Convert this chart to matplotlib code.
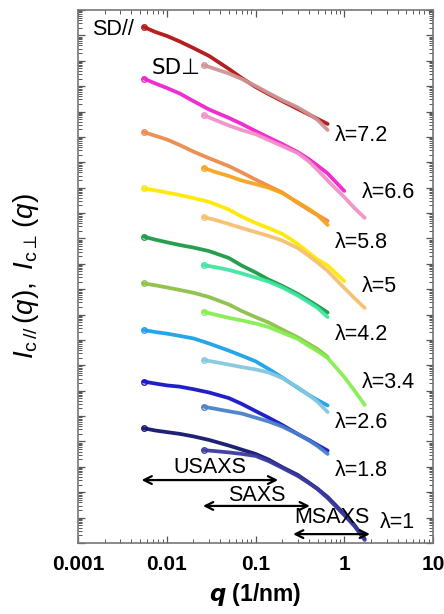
import matplotlib

matplotlib.use("Agg")
import matplotlib.pyplot as plt
import numpy as np
from matplotlib.ticker import LogLocator, NullFormatter

plt.rcParams["font.family"] = ["Liberation Sans", "DejaVu Sans"]
plt.rcParams["mathtext.fontset"] = "custom"
plt.rcParams["mathtext.rm"] = "Liberation Sans"
plt.rcParams["mathtext.it"] = "Liberation Sans:italic"
plt.rcParams["mathtext.bf"] = "Liberation Sans:bold"

# q grids (1/nm): SD// starts in the USAXS range, SD-perp a bit later
q_par = [0.0055, 0.0075, 0.01, 0.014, 0.02, 0.03, 0.05, 0.07, 0.1, 0.14,
         0.2, 0.3, 0.4, 0.5, 0.65, 1.0, 1.3, 1.7]
q_perp = [0.026, 0.035, 0.05, 0.07, 0.1, 0.14, 0.2, 0.3, 0.4, 0.5, 0.65,
          1.0, 1.3, 1.7]

# log10 intensity (curves shifted vertically), per draw ratio
lam_labels = ["7.2", "6.6", "5.8", "5", "4.2", "3.4", "2.6", "1.8", "1"]
logI_par = {
    "7.2": [20.33, 20.13, 19.98, 19.76, 19.50, 19.19, 18.68, 18.32, 17.97,
            17.69, 17.41, 17.10, 16.88, 16.71, 16.51],
    "6.6": [18.30, 18.10, 17.93, 17.71, 17.41, 17.08, 16.75, 16.51, 16.23,
            15.98, 15.72, 15.40, 15.12, 14.87, 14.56, 13.87],
    "5.8": [16.19, 16.04, 15.90, 15.68, 15.42, 15.16, 14.85, 14.60, 14.32,
            14.07, 13.81, 13.40, 13.12, 12.92, 12.69],
    "5": [13.97, 13.89, 13.81, 13.71, 13.59, 13.44, 13.14, 12.86, 12.61,
          12.41, 12.18, 11.78, 11.43, 11.17, 10.93, 10.32],
    "4.2": [12.07, 11.95, 11.85, 11.74, 11.64, 11.50, 11.23, 10.93, 10.66,
            10.38, 10.13, 9.81, 9.55, 9.34, 9.08],
    "3.4": [10.23, 10.15, 10.07, 9.97, 9.86, 9.69, 9.40, 9.14, 8.90,
            8.69, 8.41, 8.10, 7.84, 7.64, 7.33],
    "2.6": [8.39, 8.31, 8.25, 8.16, 8.06, 7.86, 7.58, 7.38, 7.16,
            6.86, 6.52, 6.11, 5.83, 5.63, 5.42],
    "1.8": [6.36, 6.28, 6.21, 6.16, 6.06, 5.93, 5.71, 5.48, 5.20,
            4.94, 4.65, 4.29, 4.06, 3.86, 3.64],
    "1": [4.52, 4.43, 4.37, 4.30, 4.20, 4.06, 3.84, 3.68, 3.51,
          3.29, 2.99, 2.68, 2.38, 2.14, 1.81, 1.14, 0.71, 0.16],
}
logI_perp = {
    "7.2": [18.83, 18.68, 18.50, 18.28, 18.01, 17.73, 17.45, 17.16, 16.90,
            16.67, 16.27],
    "6.6": [16.86, 16.67, 16.45, 16.27, 16.11, 15.88, 15.64, 15.36, 15.03,
            14.70, 14.28, 13.63, 13.20, 12.81],
    "5.8": [14.78, 14.62, 14.46, 14.28, 14.14, 14.00, 13.79, 13.42, 13.16,
            12.92, 12.53],
    "5": [12.84, 12.73, 12.57, 12.41, 12.25, 12.10, 11.92, 11.62, 11.31,
          11.05, 10.72, 10.05, 9.65, 9.26],
    "4.2": [10.95, 10.87, 10.76, 10.62, 10.46, 10.30, 10.07, 9.75, 9.48,
            9.26, 8.90],
    "3.4": [9.11, 9.00, 8.87, 8.77, 8.65, 8.51, 8.29, 8.04, 7.76,
            7.56, 7.29, 6.54, 6.01, 5.44],
    "2.6": [7.21, 7.13, 7.03, 6.93, 6.84, 6.72, 6.50, 6.13, 5.83,
            5.56, 5.16],
    "1.8": [5.37, 5.29, 5.19, 5.10, 4.94, 4.79, 4.59, 4.29, 4.04,
            3.82, 3.51],
    "1": [3.66, 3.62, 3.57, 3.51, 3.43, 3.23, 2.96, 2.64, 2.36,
          2.12, 1.77, 1.10, 0.67, 0.12],
}
col_par = {"7.2": "#b01414", "6.6": "#ee22cc", "5.8": "#ec8a4a", "5": "#ffe800",
           "4.2": "#1c9a44", "3.4": "#8cc048", "2.6": "#1aa0e8", "1.8": "#1414c8",
           "1": "#14146e"}
col_perp = {"7.2": "#d09494", "6.6": "#f290c8", "5.8": "#f7a41e", "5": "#f5c070",
            "4.2": "#3ee6a0", "3.4": "#86ee50", "2.6": "#84c8e0", "1.8": "#4a80c8",
            "1": "#3a3aa0"}
# label anchor (q, log10 I)
lab_pos = {"7.2": (0.79, 16.04), "6.6": (1.585, 13.79), "5.8": (0.79, 11.82),
           "5": (1.585, 10.09), "4.2": (0.79, 8.23), "3.4": (1.585, 6.34),
           "2.6": (0.79, 4.73), "1.8": (0.79, 2.84), "1": (2.53, 0.79)}

# measurement ranges: (q_min, q_max, label, log10 height, label offset)
ranges = [(0.0052, 0.18, "USAXS", 2.48, 0.48), (0.0256, 0.41, "SAXS", 1.46, 0.43),
          (0.265, 1.95, "MSAXS", 0.35, 0.64)]

fig = plt.figure(figsize=(4.44, 6.14), dpi=100)
ax = fig.add_axes([78 / 444, 1 - 543 / 614, 355 / 444, 533 / 614])

for lam in lam_labels:
    yp = np.array(logI_par[lam])
    ax.plot(q_par[:len(yp)], 10.0 ** yp, color=col_par[lam], lw=2.7,
            solid_capstyle="round", solid_joinstyle="round", marker="o",
            markevery=[0], ms=4, mfc="none", mew=1.0, alpha=0.95)
    ys = np.array(logI_perp[lam])
    ax.plot(q_perp[:len(ys)], 10.0 ** ys, color=col_perp[lam], lw=2.7,
            solid_capstyle="round", solid_joinstyle="round", marker="o",
            markevery=[0], ms=4, mfc="none", mew=1.0, alpha=0.95)
    x, y = lab_pos[lam]
    ax.text(x, 10.0 ** y, "λ=" + lam, fontsize=15.5, va="center", ha="left")

ax.text(0.00144, 10.0 ** 20.25, "SD//", fontsize=15.5, va="center", ha="left")
ax.text(0.00682, 10.0 ** 18.72, "SD⊥", fontsize=15.5, va="center", ha="left",
        family=["DejaVu Sans"])

for q0, q1, name, ly, off in ranges:
    ax.annotate("", xy=(q0, 10.0 ** ly), xytext=(q1, 10.0 ** ly),
                arrowprops=dict(arrowstyle="<->", color="black", lw=1.6,
                                shrinkA=0, shrinkB=0, mutation_scale=14))
    ax.text(np.sqrt(q0 * q1), 10.0 ** (ly + off), name, fontsize=15.5,
            ha="center", va="center")

ax.set_xscale("log")
ax.set_yscale("log")
ax.set_xlim(0.001, 10)
ax.set_ylim(1.0, 1e21)
ax.set_xticks([0.001, 0.01, 0.1, 1, 10])
ax.set_xticklabels(["0.001", "0.01", "0.1", "1", "10"], fontsize=15, fontweight="bold")
ax.xaxis.set_minor_locator(LogLocator(base=10, subs=np.arange(2, 10), numticks=20))
ax.yaxis.set_major_locator(LogLocator(base=10, numticks=30))
ax.yaxis.set_minor_locator(LogLocator(base=10, subs=np.arange(2, 10), numticks=30))
ax.yaxis.set_major_formatter(NullFormatter())
ax.yaxis.set_minor_formatter(NullFormatter())
ax.tick_params(which="both", direction="in", top=True, right=True, color="#555555")
ax.tick_params(which="major", length=5, width=0.9, pad=9)
ax.tick_params(which="minor", length=3, width=0.7)
for s in ax.spines.values():
    s.set_color("#777777")
    s.set_linewidth(1.2)

ax.set_xlabel(r"$\mathbfit{q}$ (1/nm)", fontsize=16.5, fontweight="bold", labelpad=5)
ax.set_ylabel(r"$I_{\mathrm{c}\,//}\,(q),\ I_{\mathrm{c}\perp}\,(q)$", fontsize=20, labelpad=18)

fig.savefig("out.png", dpi=100)
